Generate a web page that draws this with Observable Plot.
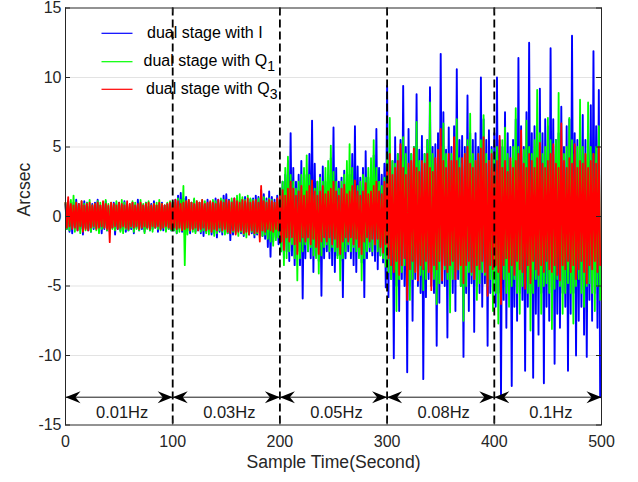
<!DOCTYPE html>
<html><head><meta charset="utf-8">
<script src="https://cdn.jsdelivr.net/npm/d3@7"></script>
<script src="https://cdn.jsdelivr.net/npm/@observablehq/plot@0.6"></script>
<style>body{margin:0;background:#fff} #chart svg{display:block}</style>
</head><body><div id="chart"></div>
<script>
// sample step (seconds) of the envelope readings; hi at t, lo at t + step/2
const step = 2.5;
const blueHi = [
0.9,1.1,0.8,1.0,1.2,0.9,0.8,1.1,1.0,0.7,0.9,1.0,1.2,0.8,0.9,1.1,0.7,0.8,1.0,0.9,1.0,0.8,1.1,0.9,0.7,1.0,0.8,1.2,0.9,0.8,1.0,0.7,0.9,1.1,0.8,0.9,1.0,0.8,0.9,1.0,
1.0,1.2,1.5,1.7,1.3,1.4,1.1,1.0,1.2,0.9,1.0,1.1,0.9,1.2,1.0,1.1,1.3,1.2,1.0,1.5,1.6,1.2,1.1,1.3,1.0,1.1,1.2,1.4,1.0,1.2,1.3,1.5,1.4,1.9,1.6,1.3,1.8,1.4,1.2,1.5,
1.5,2.5,3.0,4.0,6.0,3.5,2.5,3.0,4.0,2.5,3.0,4.5,6.9,3.8,2.5,3.0,3.6,2.5,3.0,4.2,6.4,3.5,2.5,2.8,3.3,2.5,3.0,4.5,6.5,3.6,2.8,3.5,4.7,2.8,3.0,4.4,6.3,3.5,3.0,3.8,
9.4,4.5,4.0,5.7,4.5,5.5,9.4,5.0,6.3,4.5,5.0,8.8,4.8,5.8,4.5,5.5,9.3,5.0,5.2,6.0,11.7,7.5,4.8,6.4,5.0,6.5,10.6,5.5,5.8,5.0,8.7,6.0,5.5,6.0,5.0,10.0,7.0,5.5,6.2,5.0,
6.0,10.0,5.5,5.0,7.5,6.0,5.0,5.5,7.0,11.4,6.5,5.0,7.5,12.5,6.0,6.5,5.5,9.2,6.0,7.0,6.5,12.1,7.0,5.5,6.0,7.9,5.0,6.5,7.0,13.0,6.0,5.5,6.5,7.3,5.5,6.0,8.0,11.9,6.5,9.1];
const blueLo = [
-0.9,-1.1,-1.2,-0.8,-1.0,-0.9,-1.3,-0.8,-1.0,-1.1,-0.9,-0.8,-1.0,-1.2,-0.9,-1.0,-1.1,-0.8,-1.3,-0.9,-1.0,-0.8,-1.1,-1.0,-0.9,-1.2,-0.8,-1.0,-0.9,-1.1,-0.8,-1.0,-0.9,-0.8,-1.1,-0.9,-1.0,-0.8,-0.9,-1.0,
-1.0,-1.2,-0.9,-1.1,-1.3,-1.0,-1.2,-0.9,-1.1,-1.0,-1.2,-1.4,-1.1,-1.0,-1.3,-1.2,-1.5,-1.1,-1.3,-1.0,-1.2,-1.7,-1.3,-1.1,-1.0,-1.2,-1.4,-1.1,-1.3,-1.2,-1.5,-1.3,-1.2,-1.4,-1.6,-2.2,-2.9,-1.8,-1.5,-2.0,
-2.5,-3.0,-2.5,-3.2,-2.8,-3.5,-2.5,-3.5,-5.9,-3.0,-2.5,-3.0,-4.0,-2.8,-3.2,-5.7,-3.0,-2.5,-3.0,-3.5,-4.0,-2.8,-3.2,-5.8,-3.0,-2.5,-3.0,-3.5,-4.0,-2.8,-3.3,-5.8,-3.0,-2.5,-2.8,-3.2,-3.8,-2.8,-3.3,-5.1,
-5.8,-4.5,-10.2,-5.0,-6.8,-4.5,-5.0,-11.2,-5.0,-7.5,-4.5,-5.0,-5.5,-11.7,-5.8,-4.5,-5.0,-5.5,-9.3,-6.2,-4.8,-5.0,-8.7,-5.0,-5.5,-6.8,-4.5,-5.0,-10.1,-5.5,-6.8,-4.8,-8.3,-5.0,-5.5,-6.5,-4.8,-9.3,-5.5,-6.0,
-6.5,-5.5,-12.9,-6.0,-8.0,-5.5,-12.2,-6.5,-7.5,-5.5,-6.0,-11.1,-6.5,-5.5,-11.6,-7.0,-8.5,-5.5,-12.0,-6.5,-7.5,-5.5,-10.6,-7.0,-8.0,-5.5,-6.5,-11.1,-7.0,-5.5,-10.0,-7.5,-6.5,-8.5,-10.1,-6.0,-7.5,-5.5,-8.0,-13.0];
const greenHi = [
1.0,0.9,1.2,1.5,1.0,0.8,1.1,0.9,1.0,1.2,0.8,0.9,1.1,1.0,0.8,1.2,0.9,1.0,0.8,1.1,0.9,1.2,1.0,0.8,0.9,1.1,1.0,0.8,1.2,0.9,1.0,1.1,0.8,0.9,1.0,1.2,0.9,0.8,1.0,1.1,
1.1,1.0,1.3,1.2,2.2,1.1,1.2,1.0,1.3,1.1,1.0,1.2,1.1,0.9,1.0,1.2,1.1,1.0,1.3,1.2,1.0,1.1,1.3,1.1,1.5,1.6,1.4,1.2,1.5,1.3,1.2,1.1,1.3,1.2,1.4,1.1,1.3,1.2,1.0,1.2,
2.0,2.5,3.5,4.3,3.0,2.5,2.0,2.5,3.0,3.5,4.4,3.0,2.5,2.0,2.5,2.8,2.5,3.5,4.0,5.1,3.2,2.5,2.0,2.5,3.0,4.0,5.2,3.5,2.5,2.2,2.5,3.0,2.8,3.5,4.2,5.5,3.5,2.5,2.2,2.8,
4.5,7.1,4.0,3.8,4.5,4.0,5.7,4.5,3.5,4.5,5.0,6.8,4.0,3.8,4.5,5.5,8.2,4.5,3.8,4.2,5.0,6.7,4.5,4.0,4.5,5.0,7.0,4.2,3.8,4.5,5.5,7.4,4.5,4.0,4.5,5.5,7.3,4.5,4.0,4.8,
4.5,5.0,4.2,5.5,6.4,4.5,4.0,5.0,7.8,5.0,4.5,4.8,6.9,5.0,4.5,5.5,9.1,6.0,4.5,5.0,7.1,5.5,4.5,5.5,8.9,5.0,4.5,5.0,7.1,5.5,4.5,5.0,8.4,5.0,4.5,8.2,5.0,4.5,5.0,6.5];
const greenLo = [
-0.9,-1.0,-0.8,-1.1,-0.9,-1.2,-0.8,-1.0,-0.9,-1.1,-0.8,-1.0,-1.2,-0.9,-0.8,-1.0,-1.1,-0.9,-1.0,-0.8,-1.1,-1.2,-0.9,-1.0,-0.8,-1.1,-0.9,-1.0,-0.8,-1.2,-0.9,-1.0,-1.1,-0.8,-0.9,-1.0,-0.8,-1.1,-0.9,-1.0,
-1.0,-1.2,-1.1,-0.9,-3.5,-1.3,-1.0,-1.1,-1.2,-0.9,-1.1,-1.0,-1.2,-1.3,-1.1,-1.4,-1.2,-1.0,-1.1,-1.3,-1.2,-1.0,-1.1,-1.2,-1.4,-1.1,-1.3,-1.5,-1.2,-1.1,-1.3,-1.2,-1.5,-1.4,-1.3,-1.6,-1.8,-2.1,-1.7,-1.5,
-2.5,-3.5,-3.0,-2.5,-2.0,-3.0,-4.6,-3.0,-2.5,-2.0,-2.5,-2.2,-2.8,-3.0,-4.1,-2.8,-2.2,-2.0,-2.5,-2.2,-2.5,-3.0,-4.6,-3.0,-2.5,-2.0,-2.5,-2.2,-2.5,-3.0,-4.6,-3.0,-2.5,-2.2,-2.5,-2.0,-2.5,-2.8,-3.0,-3.6,
-4.0,-4.5,-3.8,-6.8,-4.5,-4.0,-3.5,-4.5,-6.0,-4.5,-4.0,-3.8,-4.2,-5.3,-4.5,-3.8,-4.0,-4.5,-6.3,-4.8,-4.0,-3.8,-4.5,-6.9,-4.5,-4.0,-3.8,-5.0,-7.5,-5.0,-4.0,-4.2,-4.5,-6.0,-4.8,-4.0,-4.2,-5.0,-4.5,-6.8,
-5.5,-7.7,-5.0,-4.5,-5.5,-6.5,-5.0,-4.5,-5.5,-7.0,-5.0,-4.8,-5.5,-8.2,-5.5,-4.5,-5.0,-7.0,-5.0,-4.8,-5.5,-8.1,-5.2,-4.5,-5.0,-7.0,-5.5,-4.8,-5.5,-7.7,-5.0,-4.5,-5.5,-6.5,-5.0,-4.8,-5.5,-6.8,-5.0,-6.0];
const redHi = [
1.0,1.4,0.9,0.8,1.0,0.9,1.1,0.8,0.9,1.0,0.8,0.9,1.0,0.8,1.1,0.9,0.8,1.0,0.9,0.8,1.0,0.9,0.8,1.1,0.9,1.0,0.8,0.9,1.0,0.8,0.9,1.0,0.8,0.9,0.8,1.0,0.9,0.8,0.9,1.0,
1.0,1.2,1.1,0.9,1.0,1.1,1.2,1.0,0.9,1.1,1.0,1.2,0.9,1.0,1.1,1.0,0.9,1.2,1.1,1.0,1.2,1.1,1.0,1.3,1.1,1.0,1.2,1.1,1.3,1.0,1.1,1.2,1.0,2.2,1.1,1.0,1.2,1.1,1.0,1.3,
1.5,1.9,1.5,2.0,2.5,2.0,1.5,1.8,2.2,1.5,1.8,2.2,2.6,1.8,1.5,1.8,2.2,1.6,1.8,2.0,2.5,1.8,1.5,2.0,2.3,1.6,1.8,2.2,2.6,1.8,1.5,1.8,2.4,1.6,1.8,2.2,2.5,1.8,1.6,2.5,
3.5,4.5,3.0,3.5,4.0,5.2,3.5,3.0,3.8,4.0,4.9,3.5,3.2,4.0,3.8,4.5,3.5,3.2,4.2,4.8,6.3,4.0,3.5,4.5,4.0,5.7,4.0,3.5,4.2,4.5,5.0,3.8,3.5,4.0,4.5,4.9,5.7,3.8,4.0,4.5,
3.5,4.0,5.8,3.5,4.0,3.2,4.2,3.5,4.0,4.5,6.2,3.8,3.5,4.5,4.0,3.5,4.2,5.3,3.8,3.5,4.0,4.5,5.2,3.8,3.5,6.7,4.0,3.5,4.2,3.8,5.2,3.5,4.0,3.8,4.5,3.5,4.0,4.5,3.8,5.0];
const redLo = [
-0.8,-0.7,-0.9,-0.8,-1.0,-0.7,-1.1,-0.9,-1.0,-0.8,-0.7,-0.9,-0.8,-0.7,-0.8,-0.9,-1.85,-0.8,-0.7,-0.9,-0.8,-0.7,-0.8,-0.9,-0.7,-0.8,-0.7,-0.9,-0.8,-0.7,-0.8,-0.9,-0.7,-0.8,-0.7,-0.9,-0.8,-0.7,-0.8,-0.9,
-0.8,-0.9,-0.8,-1.0,-0.9,-0.8,-1.0,-0.9,-0.8,-1.0,-0.9,-0.8,-1.0,-0.9,-1.1,-0.9,-1.0,-0.8,-1.0,-0.9,-1.1,-1.2,-1.0,-1.3,-1.1,-1.0,-1.2,-1.1,-1.3,-1.0,-1.2,-1.1,-1.8,-1.0,-1.1,-0.9,-1.0,-1.1,-0.9,-1.0,
-1.8,-2.4,-1.5,-1.8,-1.5,-2.0,-2.7,-1.8,-1.5,-1.8,-1.5,-2.0,-1.6,-2.2,-2.7,-1.8,-1.5,-1.8,-1.5,-2.0,-1.6,-2.2,-2.7,-1.8,-1.5,-1.8,-1.5,-2.0,-1.6,-2.2,-2.7,-1.8,-1.5,-1.8,-1.6,-2.0,-1.6,-2.2,-2.6,-2.0,
-3.0,-3.5,-4.0,-3.2,-4.2,-3.5,-3.0,-6.0,-3.8,-3.2,-4.0,-4.6,-3.5,-3.8,-3.2,-4.0,-5.3,-3.5,-3.8,-3.2,-4.6,-3.5,-4.0,-3.5,-3.2,-4.5,-3.8,-3.5,-4.8,-3.5,-3.2,-4.0,-4.5,-3.5,-3.8,-3.2,-4.0,-5.7,-3.5,-3.8,
-3.5,-4.0,-6.3,-3.5,-3.0,-4.0,-3.5,-4.2,-3.2,-3.8,-4.0,-5.2,-3.5,-4.8,-3.2,-3.8,-4.2,-3.5,-4.0,-3.2,-3.8,-4.0,-3.5,-4.2,-4.6,-3.5,-3.8,-3.2,-4.0,-3.5,-4.5,-3.8,-3.2,-4.0,-4.8,-3.5,-3.8,-3.2,-4.0,-3.5];

const xTicks = [0,100,200,300,400,500];
const yTicks = [-15,-10,-5,0,5,10,15];
const gridValues = [-10,-5,0,5,10];
const dividers = [100,200,300,400];
const segStarts = [0,100,200,300,400];
const segLabels = ["0.01Hz","0.03Hz","0.05Hz","0.08Hz","0.1Hz"];
const arrowY = -13;
const labelY = -14.1;
const seriesLabels = ["dual stage with I","dual stage with Q","dual stage with Q"];
const seriesSubs = ["","1","3"];
const seriesColors = ["#0000ff","#00ff00","#ff0000"];

function zig(hi, lo){
  const out = [];
  hi.forEach((h,i)=>{ out.push({t:i*step, v:h}); out.push({t:i*step+step/2, v:lo[i]}); });
  return out;
}
const blue = zig(blueHi, blueLo), green = zig(greenHi, greenLo), red = zig(redHi, redLo);

const W = 638, H = 482, mL = 65, mR = 37, mT = 7.5, mB = 57.5;
const fw = W - mL - mR, fh = H - mT - mB, tick = 5;

const headRight = {draw(c){ c.moveTo(0,0); c.lineTo(-15,-6); c.lineTo(-10,0); c.lineTo(-15,6); c.closePath(); }};
const headLeft  = {draw(c){ c.moveTo(0,0); c.lineTo(15,-6); c.lineTo(10,0); c.lineTo(15,6); c.closePath(); }};

const chart = Plot.plot({
  width: W, height: H,
  marginLeft: mL, marginRight: mR, marginTop: mT, marginBottom: mB,
  style: {fontFamily: "'Liberation Sans', Arial, sans-serif", fontSize: "16px", color: "#262626", background: "#fff"},
  x: {domain: [0,500], ticks: xTicks, tickSize: 0, tickPadding: 11, tickFormat: d => String(d), label: null},
  y: {domain: [-15,15], ticks: yTicks, tickSize: 0, tickPadding: 4, tickFormat: d => String(d), label: null},
  marks: [
    Plot.ruleY(gridValues, {stroke: "#e3e3e3", strokeWidth: 1}),
    Plot.line(blue, {x: "t", y: "v", stroke: seriesColors[0], strokeWidth: 1.9}),
    Plot.line(green, {x: "t", y: "v", stroke: seriesColors[1], strokeWidth: 1.8}),
    Plot.line(red, {x: "t", y: "v", stroke: seriesColors[2], strokeWidth: 1.8}),
    Plot.ruleX(dividers, {stroke: "#000", strokeWidth: 1.8, strokeDasharray: "8,4"}),
    Plot.ruleY([{y: arrowY, x1: 0, x2: 500}], {y: "y", x1: "x1", x2: "x2", stroke: "#1a1a1a", strokeWidth: 1}),
    Plot.dot(segStarts.map(s => ({x: s + 100, y: arrowY})), {x: "x", y: "y", symbol: headRight, fill: "#000", stroke: "none"}),
    Plot.dot(segStarts.map(s => ({x: s, y: arrowY})), {x: "x", y: "y", symbol: headLeft, fill: "#000", stroke: "none"}),
    Plot.text(segStarts.map((s,i) => ({x: s + 50, y: labelY, label: segLabels[i]})), {x: "x", y: "y", text: "label", dx: 3, fontSize: 16.5, fill: "#1a1a1a"}),
    Plot.ruleX(xTicks, {stroke: "#262626", insetTop: fh - tick}),
    Plot.ruleX(xTicks, {stroke: "#262626", insetBottom: fh - tick}),
    Plot.ruleY(yTicks, {stroke: "#262626", insetRight: fw - tick}),
    Plot.ruleY(yTicks, {stroke: "#262626", insetLeft: fw - tick}),
    Plot.frame({stroke: "#262626", strokeWidth: 1}),
    Plot.text(["Sample Time(Second)"], {text: d => d, frameAnchor: "bottom", dy: 43, fontSize: 17.6}),
    Plot.text(["Arcsec"], {text: d => d, frameAnchor: "left", dx: -41.5, rotate: -90, fontSize: 17.6})
  ]
});
document.getElementById("chart").appendChild(chart);

// legend (inside plot, upper left, no box)
const svg = d3.select(chart);
const leg = svg.append("g").attr("font-family", "'Liberation Sans', Arial, sans-serif")
  .attr("font-size", 16).attr("fill", "#000").attr("text-anchor", "start");
const rowY = [33.3, 61.7, 89.3];
const textX = [147, 143.5, 146];
seriesLabels.forEach((lab, i) => {
  leg.append("line").attr("x1", 101.5).attr("x2", 132.5).attr("y1", rowY[i]).attr("y2", rowY[i])
    .attr("stroke", seriesColors[i]).attr("stroke-width", 1.2);
  const t = leg.append("text").attr("x", textX[i]).attr("y", rowY[i] + 4.5).attr("text-anchor", "start").text(lab);
  if (seriesSubs[i]) t.append("tspan").attr("dy", 5).attr("font-size", 14).text(seriesSubs[i]);
});
</script>
</body></html>
